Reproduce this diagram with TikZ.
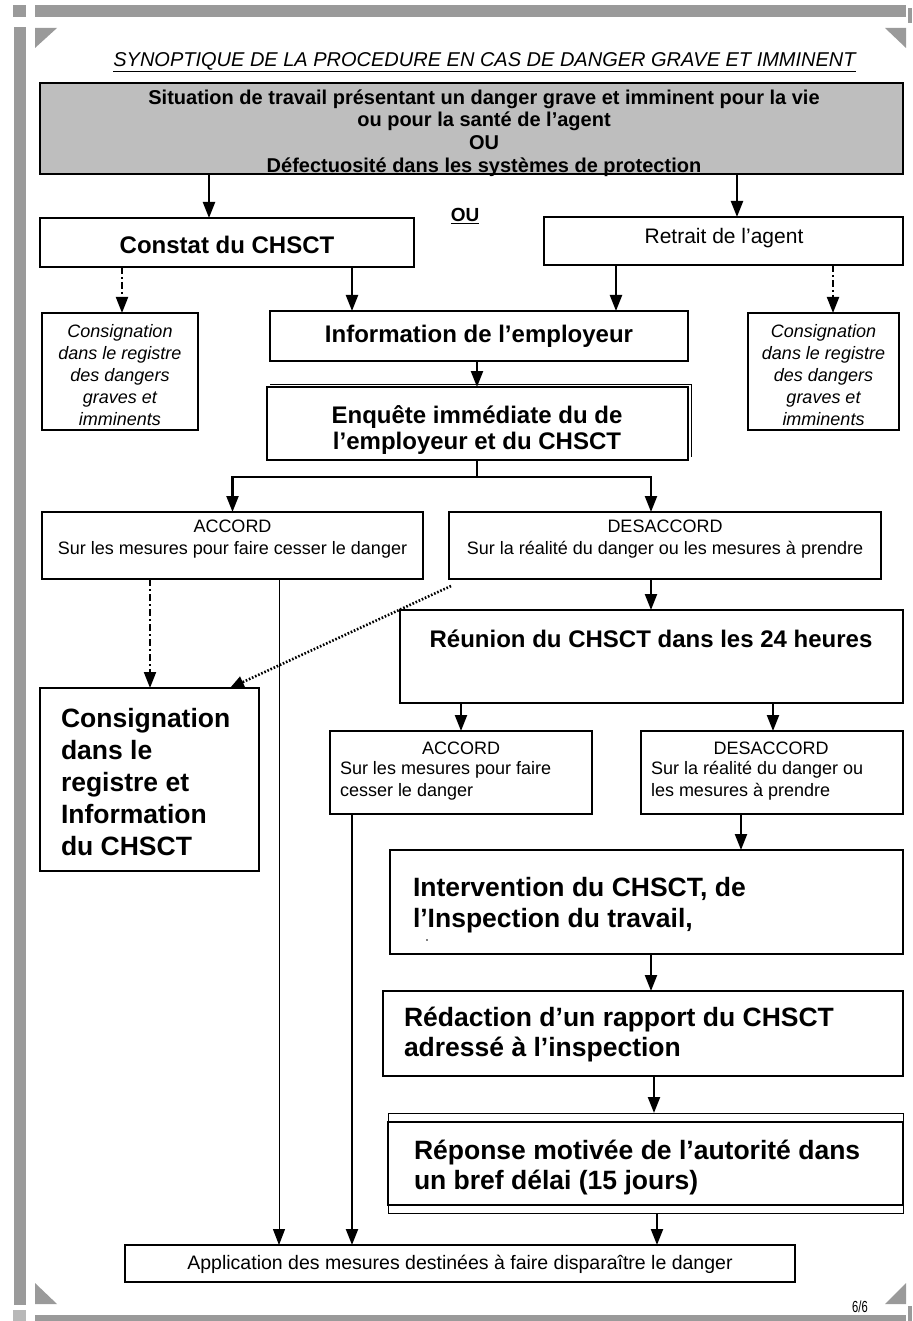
\documentclass[tikz,border=0pt]{standalone}
\usepackage{fontspec}
\usepackage{graphicx}
\setmainfont{Liberation Sans}
\usetikzlibrary{arrows.meta}
\definecolor{framegray}{HTML}{9A9A9A}
\definecolor{boxgray}{HTML}{BEBEBE}
\newcommand{\fs}[2]{\fontsize{#1}{#2}\selectfont}
\begin{document}
\begin{tikzpicture}[x=1pt,y=-1pt,
  every node/.style={inner sep=0pt, outer sep=0pt},
  box/.style={draw, line width=1.5pt, anchor=north west, fill=white},
  sbox/.style={draw, line width=1.1pt, anchor=north west, fill=white},
  arr/.style={-{Triangle[length=16pt,width=12pt]}, line width=2.2pt},
  tarr/.style={-{Triangle[length=16pt,width=12pt]}, line width=1pt},
  dd/.style={-{Triangle[length=16pt,width=12pt]}, line width=2pt, dash pattern=on 7pt off 3pt on 2pt off 3pt},
  dotarr/.style={-{Triangle[length=14pt,width=12pt]}, line width=2.6pt, dash pattern=on 1.6pt off 1.8pt},
  lbl/.style={align=center}
]
\path[use as bounding box] (0,0) rectangle (912,1321);
% frame
\fill[framegray] (35,5) rectangle (906,17);
\fill[framegray] (13,5) rectangle (26,17);
\fill[framegray] (908,8) rectangle (912,23);
\fill[framegray] (14,27) rectangle (26,1305);
\fill[framegray] (35,1315) rectangle (906,1321);
\fill[framegray!70] (13,1310) rectangle (26,1321);
\fill[framegray] (908,1306) rectangle (912,1321);
\fill[framegray] (35,28) -- (57,28) -- (35,48) -- cycle;
\fill[framegray] (885,28) -- (906,28) -- (906,48) -- cycle;
\fill[framegray] (35,1283) -- (35,1304) -- (57,1304) -- cycle;
\fill[framegray] (906,1283) -- (906,1304) -- (885,1304) -- cycle;
\node (pg) at (860,1307) {\fs{16}{16}\scalebox{0.7}[1]{6/6}};

% title
\node (title) at (484.5,62) {\fs{20}{24}\itshape\underline{SYNOPTIQUE DE LA PROCEDURE EN CAS DE DANGER GRAVE ET IMMINENT}};

% boxes
\node[box, fill=boxgray, minimum width=863pt, minimum height=91pt] (sit) at (40,83) {};
\node[lbl, font=\fs{20}{22.8}\bfseries] (sittxt) at (484,133) {Situation de travail présentant un danger grave et imminent pour la vie\\ou pour la santé de l'agent\\OU\\Défectuosité dans les systèmes de protection};

\node (ou) at (465,216) {\fs{19}{22}\bfseries\underline{OU}};

\node[box, minimum width=374pt, minimum height=49pt] (constat) at (40,218) {};
\node[font=\fs{24}{28}\bfseries] (constattxt) at (227,245) {Constat du CHSCT};

\node[box, minimum width=359pt, minimum height=48pt] (retrait) at (544,217) {};
\node[font=\fs{21}{24}] (retraittxt) at (724,238) {Retrait de l'agent};

\node[sbox, minimum width=156pt, minimum height=117pt] (consL) at (42,313) {};
\node[lbl, font=\fs{18}{22}\itshape] (consLtxt) at (120,375) {Consignation\\dans le registre\\des dangers\\graves et\\imminents};

\node[sbox, minimum width=151pt, minimum height=117pt] (consR) at (748,313) {};
\node[lbl, font=\fs{18}{22}\itshape] (consRtxt) at (823.5,375) {Consignation\\dans le registre\\des dangers\\graves et\\imminents};

\node[box, minimum width=418pt, minimum height=50pt] (info) at (270,311) {};
\node[font=\fs{24}{28}\bfseries] (infotxt) at (479,336) {Information de l’employeur};

\draw[line width=0.8pt] (270,384) -- (691,384) -- (691,457);
\node[box, minimum width=421pt, minimum height=73pt] (enq) at (267,387) {};
\node[lbl, font=\fs{24}{26}\bfseries] (enqtxt) at (477,430) {Enquête immédiate du de\\l’employeur et du CHSCT};

\node[sbox, minimum width=381pt, minimum height=67pt] (acc1) at (42,512) {};
\node[lbl, font=\fs{18}{22}] (acc1txt) at (232.5,539) {ACCORD\\Sur les mesures pour faire cesser le danger};

\node[sbox, minimum width=432pt, minimum height=67pt] (des1) at (449,512) {};
\node[lbl, font=\fs{18}{22}] (des1txt) at (665,539) {DESACCORD\\Sur la réalité du danger ou les mesures à prendre};

\node[box, minimum width=503pt, minimum height=93pt] (reun) at (400,610) {};
\node[font=\fs{24}{28}\bfseries] (reuntxt) at (651,639) {Réunion du CHSCT dans les 24 heures};

\node[box, minimum width=219pt, minimum height=183pt] (consB) at (40,688) {};
\node[anchor=west, align=left, font=\fs{26.5}{32}\bfseries] (consBtxt) at (61,782) {Consignation\\dans le\\registre et\\Information\\du CHSCT};

\node[sbox, minimum width=262pt, minimum height=83pt] (acc2) at (330,731) {};
\node[font=\fs{18}{22}] (acc2h) at (461,748) {ACCORD};
\node[anchor=west, align=left, font=\fs{18}{22}] (acc2txt) at (340,781) {Sur les mesures pour faire\\cesser le danger};

\node[sbox, minimum width=262pt, minimum height=83pt] (des2) at (641,731) {};
\node[font=\fs{18}{22}] (des2h) at (771,748) {DESACCORD};
\node[anchor=west, align=left, font=\fs{18}{22}] (des2txt) at (651,781) {Sur la réalité du danger ou\\les mesures à prendre};

\node[box, minimum width=513pt, minimum height=104pt] (interv) at (390,850) {};
\node[anchor=west, align=left, font=\fs{26.5}{31}\bfseries] (intervtxt) at (413,905) {Intervention du CHSCT, de\\l’Inspection du travail,};
\fill (427,940) circle (0.8);

\node[box, minimum width=520pt, minimum height=85pt] (redac) at (383,991) {};
\node[anchor=west, align=left, font=\fs{26.5}{30}\bfseries] (redactxt) at (404,1035) {Rédaction d’un rapport du CHSCT\\adressé à l’inspection};

\node[draw, line width=1pt, anchor=north west, fill=white, minimum width=515pt, minimum height=100pt] (reponO) at (388,1113) {};
\node[box, minimum width=515pt, minimum height=83pt] (repon) at (388,1122) {};
\node[anchor=west, align=left, font=\fs{26.5}{30}\bfseries] (repontxt) at (414,1168) {Réponse motivée de l’autorité dans\\un bref délai (15 jours)};

\node[sbox, minimum width=670pt, minimum height=37pt] (appl) at (125,1245) {};
\node[font=\fs{19.5}{22}] (appltxt) at (460,1264) {Application des mesures destinées à faire disparaître le danger};

% x positions
\coordinate (xA) at (209,0);
\coordinate (xB) at (737,0);
\coordinate (x122) at (122,0);
\coordinate (x352) at (352,0);
\coordinate (x616) at (616,0);
\coordinate (x833) at (833,0);
\coordinate (x477) at (477,0);
\coordinate (x651) at (651,0);
\coordinate (x150) at (150,0);
\coordinate (x279) at (279,0);
\coordinate (x230) at (230,0);
\coordinate (x461) at (461,0);
\coordinate (x773) at (773,0);
\coordinate (x741) at (741,0);
\coordinate (x654) at (654,0);
\coordinate (x657) at (657,0);
\coordinate (split) at (477,477);
\coordinate (dstart) at (451,586);

% connectors
\draw[arr] (sit.south -| xA) -- (constat.north -| xA);
\draw[arr] (sit.south -| xB) -- (retrait.north -| xB);
\draw[dd] (constat.south -| x122) -- (consL.north -| x122);
\draw[arr] (constat.south -| x352) -- (info.north -| x352);
\draw[arr] (retrait.south -| x616) -- (info.north -| x616);
\draw[dd] (retrait.south -| x833) -- (consR.north -| x833);
\draw[arr] (info.south -| x477) -- (enq.north -| x477);
\draw[line width=2pt] (enq.south -| x477) -- (split);
\draw[arr] (split) -| (acc1.north);
\draw[arr] (split) -| (des1.north -| x651);
\draw[dd] (acc1.south -| x150) -- (consB.north -| x150);
\draw[tarr] (acc1.south -| x279) -- (appl.north -| x279);
\draw[dotarr] (dstart) -- (consB.north -| x230);
\draw[arr] (des1.south -| x651) -- (reun.north -| x651);
\draw[arr] (reun.south -| x461) -- (acc2.north -| x461);
\draw[arr] (reun.south -| x773) -- (des2.north -| x773);
\draw[arr] (acc2.south -| x352) -- (appl.north -| x352);
\draw[arr] (des2.south -| x741) -- (interv.north -| x741);
\draw[arr] (interv.south -| x651) -- (redac.north -| x651);
\draw[arr] (redac.south -| x654) -- (reponO.north -| x654);
\draw[arr] (reponO.south -| x657) -- (appl.north -| x657);
\end{tikzpicture}
\end{document}
